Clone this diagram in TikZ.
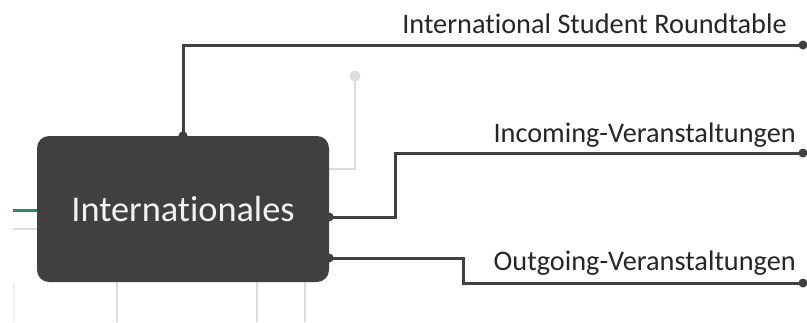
\documentclass[tikz,border=0pt]{standalone}
\usepackage{fontspec}
\setmainfont{Carlito}[Ligatures={NoCommon,NoRare}]
\definecolor{boxgray}{HTML}{404040}
\definecolor{linedark}{HTML}{404040}
\definecolor{textdark}{HTML}{262626}
\definecolor{ghostgray}{HTML}{DCDCDC}
\definecolor{faintgray}{HTML}{F0F0F0}
\definecolor{teal}{HTML}{2A8A6C}
\begin{document}
\begin{tikzpicture}[x=1pt,y=-1pt,
  branch/.style={draw=linedark, line width=3pt},
  ghost/.style={draw=ghostgray, line width=2pt},
  knob/.style={fill=linedark},
  leaf/.style={anchor=base east, text=textdark, inner sep=0pt,
    font=\fontsize{28.3}{33}\selectfont},
  topic/.style={rectangle, rounded corners=12pt, fill=boxgray,
    minimum width=292pt, minimum height=146pt, inner sep=0pt,
    text=white!95!black, font=\fontsize{36.3}{42}\selectfont}
]
\useasboundingbox (0,0) rectangle (807,322);

% faded neighbouring branches in the background
\coordinate (gdot) at (355,76);
\fill[ghostgray] (gdot) circle (5.5pt);
\draw[ghost] (gdot) |- (329,169);
\foreach \x in {117,257,305}
  \draw[ghost] (\x,282) -- (\x,322);
\draw[teal, line width=3pt] (13,210) -- (37,210);
\draw[ghost] (13,229) -- (37,229);
\draw[faintgray, line width=1.5pt] (14,283) -- (14,322);

% central topic
\node[topic] (main) at (183,209) {Internationales};

% branch end points
\coordinate (e1) at (803,45);
\coordinate (e2) at (803,153);
\coordinate (e3) at (803,283);
\coordinate (s1) at (main.north);
\coordinate (s2) at ([yshift=-8pt]main.east);
\coordinate (s3) at ([yshift=-49pt]main.east);

% connectors
\draw[branch] (s1) |- (e1);
\draw[branch] (s2) -- (395,217) |- (e2);
\draw[branch] (s3) -- (463,258) |- (e3);

\foreach \p in {e1,e2,e3,s1,s2,s3}
  \fill[knob] (\p) circle (4.5pt);

% branch labels
\node[leaf] (l1) at (787,33) {International Student Roundtable};
\node[leaf] (l2) at (796,142) {Incoming-Veranstaltungen};
\node[leaf] (l3) at (796,270) {Outgoing-Veranstaltungen};
\end{tikzpicture}
\end{document}
